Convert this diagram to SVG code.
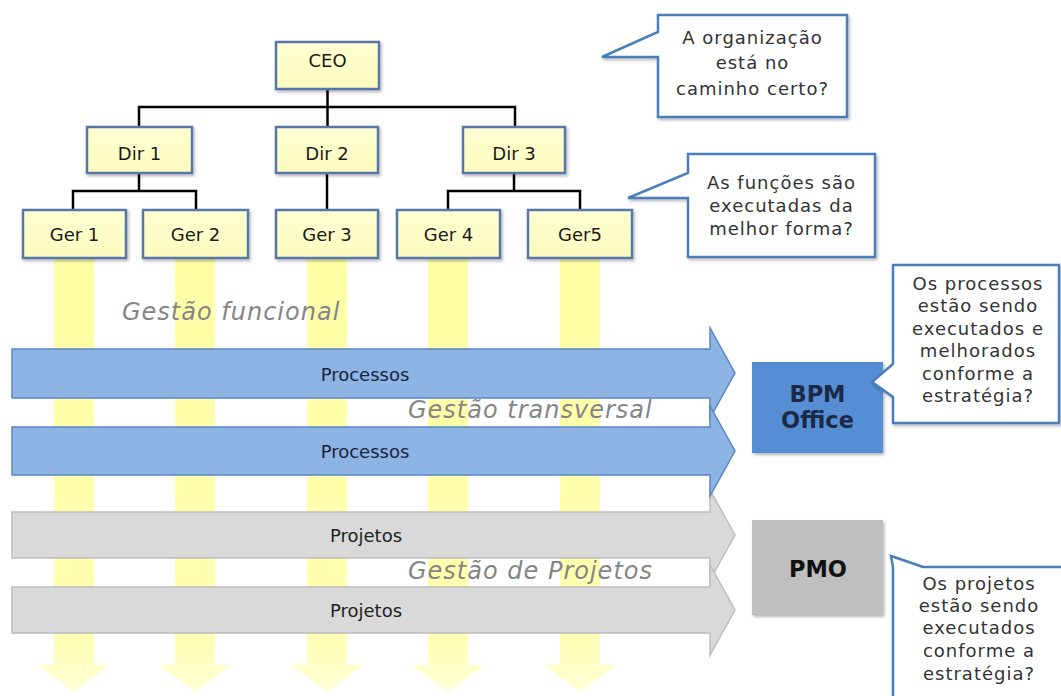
<svg xmlns="http://www.w3.org/2000/svg" width="1061" height="696" viewBox="0 0 1061 696">
  <defs>
    <linearGradient id="boxFill" x1="0" y1="0" x2="0" y2="1">
      <stop offset="0" stop-color="#FFFFD2"/>
      <stop offset="1" stop-color="#FCFCC0"/>
    </linearGradient>
    <linearGradient id="colFill" x1="0" y1="0" x2="0" y2="1">
      <stop offset="0" stop-color="#FFFFA6"/>
      <stop offset="0.85" stop-color="#FFFFB0"/>
      <stop offset="1" stop-color="#FFFFD6"/>
    </linearGradient>
    <filter id="shadow" x="-10%" y="-10%" width="125%" height="130%">
      <feDropShadow dx="1.5" dy="2" stdDeviation="1.5" flood-color="#000" flood-opacity="0.28"/>
    </filter>
  </defs>
  <style>
    .box { fill: url(#boxFill); stroke: #5677A8; stroke-width: 2.5; filter: url(#shadow); }
    .lbl { font-family: "DejaVu Sans", Verdana, sans-serif; font-size: 18px; fill: #1a1a1a; text-anchor: middle; }
    .link { fill: none; stroke: #000; stroke-width: 2.5; }
    .col { fill: url(#colFill); }
    .blue { fill: #8DB4E2; stroke: #5B87C6; stroke-width: 1.5; }
    .gray { fill: #D9D9D9; stroke: #BDBDBD; stroke-width: 1.5; }
    .band { font-family: "DejaVu Sans", Verdana, sans-serif; font-size: 18px; text-anchor: middle; }
    .mgmt { font-family: "DejaVu Sans", Verdana, sans-serif; font-size: 24px; font-style: italic; fill: #858585; letter-spacing: 1px; }
    .office { font-family: "DejaVu Sans", Verdana, sans-serif; font-size: 22.5px; font-weight: bold; text-anchor: middle; }
    .call { fill: #fff; stroke: #4A7EBB; stroke-width: 2.5; filter: url(#shadow); }
    .ctext { font-family: "DejaVu Sans", Verdana, sans-serif; font-size: 18px; fill: #333; text-anchor: middle; letter-spacing: 1px; }
  </style>

  <!-- functional columns running down from each manager -->
  <g id="columns">
    <polygon class="col" points="54,258 94,258 94,665 110,665 74,692 38,665 54,665"/>
    <polygon class="col" points="175,258 215,258 215,665 231,665 195,692 159,665 175,665"/>
    <polygon class="col" points="307,258 347,258 347,665 363,665 327,692 291,665 307,665"/>
    <polygon class="col" points="428,258 468,258 468,665 484,665 448,692 412,665 428,665"/>
    <polygon class="col" points="560,258 600,258 600,665 616,665 580,692 544,665 560,665"/>
  </g>

  <!-- project bands -->
  <g id="projetos-1">
    <path class="gray" d="M12,512 H710 V490 L735,535 L710,580 V558 H12 Z"/>
    <text class="band" x="366" y="542" fill="#222">Projetos</text>
  </g>
  <g id="projetos-2">
    <path class="gray" d="M12,587 H710 V565 L735,610 L710,655 V633 H12 Z"/>
    <text class="band" x="366" y="617" fill="#222">Projetos</text>
  </g>

  <!-- process bands -->
  <g id="processos-1">
    <path class="blue" d="M12,349 H710 V328 L735,373 L710,418 V398 H12 Z"/>
    <text class="band" x="365" y="381" fill="#1a2440">Processos</text>
  </g>
  <g id="processos-2">
    <path class="blue" d="M12,427 H710 V406 L735,451 L710,496 V475 H12 Z"/>
    <text class="band" x="365" y="458" fill="#1a2440">Processos</text>
  </g>

  <!-- management layer labels -->
  <g id="labels">
    <text class="mgmt" x="122" y="320">Gestão funcional</text>
    <text class="mgmt" x="408" y="418">Gestão transversal</text>
    <text class="mgmt" x="408" y="579">Gestão de Projetos</text>
  </g>

  <!-- org chart links -->
  <g id="connectors">
    <path class="link" d="M327.5,89 V127"/>
    <path class="link" d="M139,127 V107 H515 V127"/>
    <path class="link" d="M139,173 V191"/>
    <path class="link" d="M73,210 V191 H196 V210"/>
    <path class="link" d="M327,173 V210"/>
    <path class="link" d="M514,173 V191"/>
    <path class="link" d="M448,210 V191 H580 V210"/>
  </g>

  <!-- org chart nodes -->
  <g id="ceo">
    <rect class="box" x="276" y="42" width="103" height="47"/>
    <text class="lbl" x="327.5" y="67">CEO</text>
  </g>
  <g id="dir1">
    <rect class="box" x="87" y="127" width="105" height="46"/>
    <text class="lbl" x="139.5" y="160">Dir 1</text>
  </g>
  <g id="dir2">
    <rect class="box" x="276" y="127" width="102" height="46"/>
    <text class="lbl" x="327" y="160">Dir 2</text>
  </g>
  <g id="dir3">
    <rect class="box" x="463" y="127" width="102" height="46"/>
    <text class="lbl" x="514" y="160">Dir 3</text>
  </g>
  <g id="ger1">
    <rect class="box" x="23" y="210" width="103" height="48"/>
    <text class="lbl" x="74.5" y="241">Ger 1</text>
  </g>
  <g id="ger2">
    <rect class="box" x="143" y="210" width="105" height="48"/>
    <text class="lbl" x="195.5" y="241">Ger 2</text>
  </g>
  <g id="ger3">
    <rect class="box" x="276" y="210" width="102" height="48"/>
    <text class="lbl" x="327" y="241">Ger 3</text>
  </g>
  <g id="ger4">
    <rect class="box" x="397" y="210" width="103" height="48"/>
    <text class="lbl" x="448.5" y="241">Ger 4</text>
  </g>
  <g id="ger5">
    <rect class="box" x="528" y="210" width="104" height="48"/>
    <text class="lbl" x="580" y="241">Ger5</text>
  </g>

  <!-- offices -->
  <g id="bpm-office">
    <rect x="752" y="362" width="131" height="91" fill="#558ED5" filter="url(#shadow)"/>
    <text class="office" x="817.5" y="402" fill="#1B2A48">BPM</text>
    <text class="office" x="817.5" y="428" fill="#1B2A48">Office</text>
  </g>
  <g id="pmo">
    <rect x="752" y="520" width="131" height="95" fill="#BFBFBF" filter="url(#shadow)"/>
    <text class="office" x="818" y="577" fill="#111">PMO</text>
  </g>

  <!-- question callouts -->
  <g id="callout-ceo">
    <path class="call" d="M658,15 H847 V117 H658 V57 H602 L658,32 Z"/>
    <text class="ctext" x="752.5" y="44">A organização</text>
    <text class="ctext" x="752.5" y="69">está no</text>
    <text class="ctext" x="752.5" y="95">caminho certo?</text>
  </g>
  <g id="callout-ger">
    <path class="call" d="M688,154 H875 V257 H688 V198 H628 L688,173 Z"/>
    <text class="ctext" x="781.5" y="189">As funções são</text>
    <text class="ctext" x="781.5" y="212">executadas da</text>
    <text class="ctext" x="781.5" y="235">melhor forma?</text>
  </g>
  <g id="callout-bpm">
    <path class="call" d="M893,265 H1059 V423 H893 V397 L872,382 L893,364 Z"/>
    <text class="ctext" x="978" y="290">Os processos</text>
    <text class="ctext" x="978" y="312">estão sendo</text>
    <text class="ctext" x="978" y="335">executados e</text>
    <text class="ctext" x="978" y="357">melhorados</text>
    <text class="ctext" x="978" y="380">conforme a</text>
    <text class="ctext" x="978" y="402">estratégia?</text>
  </g>
  <g id="callout-pmo">
    <path class="call" d="M893,567 L891,556 L923,567 H1064 V700 H893 Z"/>
    <text class="ctext" x="979" y="590">Os projetos</text>
    <text class="ctext" x="979" y="612">estão sendo</text>
    <text class="ctext" x="979" y="634">executados</text>
    <text class="ctext" x="979" y="657">conforme a</text>
    <text class="ctext" x="979" y="680">estratégia?</text>
  </g>
</svg>
